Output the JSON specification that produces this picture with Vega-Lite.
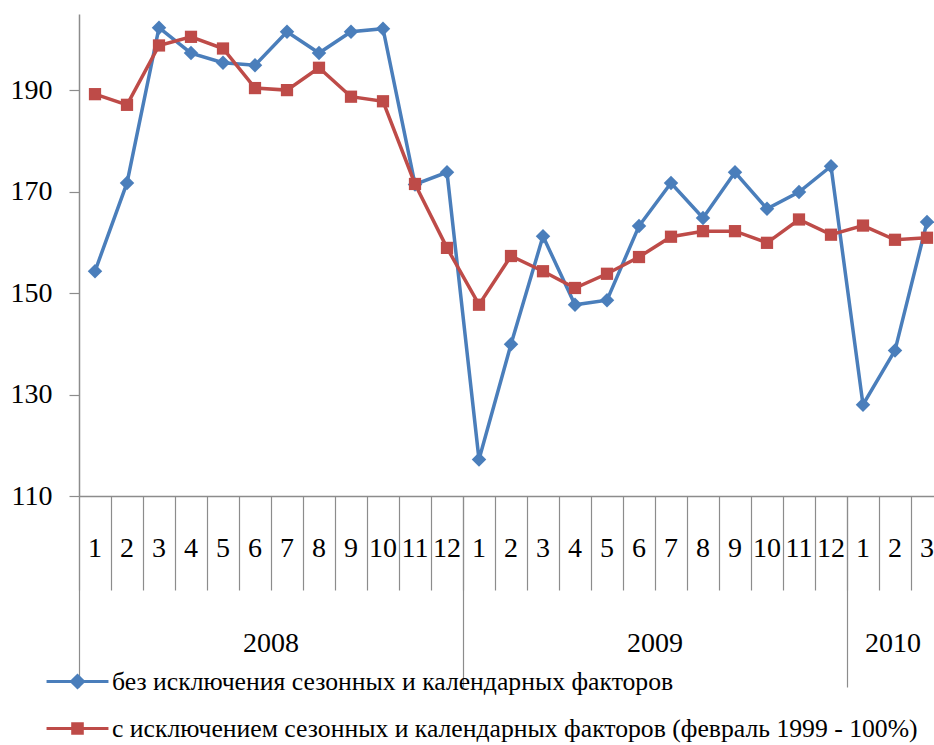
{
  "$schema": "https://vega.github.io/schema/vega-lite/v6.json",
  "width": 864,
  "height": 482,
  "autosize": {"type": "none"},
  "padding": {"left": 79, "top": 14, "right": 0, "bottom": 249},
  "background": "white",
  "config": {"view": {"stroke": null}, "font": "Liberation Serif"},
  "data": {"values": [
    {"m": "2008-01", "s": "без исключения сезонных и календарных факторов", "v": 154.3},
    {"m": "2008-02", "s": "без исключения сезонных и календарных факторов", "v": 171.7},
    {"m": "2008-03", "s": "без исключения сезонных и календарных факторов", "v": 202.3},
    {"m": "2008-04", "s": "без исключения сезонных и календарных факторов", "v": 197.3},
    {"m": "2008-05", "s": "без исключения сезонных и календарных факторов", "v": 195.4},
    {"m": "2008-06", "s": "без исключения сезонных и календарных факторов", "v": 194.9},
    {"m": "2008-07", "s": "без исключения сезонных и календарных факторов", "v": 201.5},
    {"m": "2008-08", "s": "без исключения сезонных и календарных факторов", "v": 197.3},
    {"m": "2008-09", "s": "без исключения сезонных и календарных факторов", "v": 201.5},
    {"m": "2008-10", "s": "без исключения сезонных и календарных факторов", "v": 202.1},
    {"m": "2008-11", "s": "без исключения сезонных и календарных факторов", "v": 171.4},
    {"m": "2008-12", "s": "без исключения сезонных и календарных факторов", "v": 173.8},
    {"m": "2009-01", "s": "без исключения сезонных и календарных факторов", "v": 117.2},
    {"m": "2009-02", "s": "без исключения сезонных и календарных факторов", "v": 139.9},
    {"m": "2009-03", "s": "без исключения сезонных и календарных факторов", "v": 161.2},
    {"m": "2009-04", "s": "без исключения сезонных и календарных факторов", "v": 147.7},
    {"m": "2009-05", "s": "без исключения сезонных и календарных факторов", "v": 148.6},
    {"m": "2009-06", "s": "без исключения сезонных и календарных факторов", "v": 163.2},
    {"m": "2009-07", "s": "без исключения сезонных и календарных факторов", "v": 171.7},
    {"m": "2009-08", "s": "без исключения сезонных и календарных факторов", "v": 164.8},
    {"m": "2009-09", "s": "без исключения сезонных и календарных факторов", "v": 173.8},
    {"m": "2009-10", "s": "без исключения сезонных и календарных факторов", "v": 166.6},
    {"m": "2009-11", "s": "без исключения сезонных и календарных факторов", "v": 169.9},
    {"m": "2009-12", "s": "без исключения сезонных и календарных факторов", "v": 175.0},
    {"m": "2010-01", "s": "без исключения сезонных и календарных факторов", "v": 128.0},
    {"m": "2010-02", "s": "без исключения сезонных и календарных факторов", "v": 138.7},
    {"m": "2010-03", "s": "без исключения сезонных и календарных факторов", "v": 164.0},
    {"m": "2008-01", "s": "с исключением сезонных и календарных факторов (февраль 1999 - 100%)", "v": 189.2},
    {"m": "2008-02", "s": "с исключением сезонных и календарных факторов (февраль 1999 - 100%)", "v": 187.1},
    {"m": "2008-03", "s": "с исключением сезонных и календарных факторов (февраль 1999 - 100%)", "v": 198.8},
    {"m": "2008-04", "s": "с исключением сезонных и календарных факторов (февраль 1999 - 100%)", "v": 200.5},
    {"m": "2008-05", "s": "с исключением сезонных и календарных факторов (февраль 1999 - 100%)", "v": 198.2},
    {"m": "2008-06", "s": "с исключением сезонных и календарных факторов (февраль 1999 - 100%)", "v": 190.4},
    {"m": "2008-07", "s": "с исключением сезонных и календарных факторов (февраль 1999 - 100%)", "v": 190.0},
    {"m": "2008-08", "s": "с исключением сезонных и календарных факторов (февраль 1999 - 100%)", "v": 194.4},
    {"m": "2008-09", "s": "с исключением сезонных и календарных факторов (февраль 1999 - 100%)", "v": 188.7},
    {"m": "2008-10", "s": "с исключением сезонных и календарных факторов (февраль 1999 - 100%)", "v": 187.8},
    {"m": "2008-11", "s": "с исключением сезонных и календарных факторов (февраль 1999 - 100%)", "v": 171.5},
    {"m": "2008-12", "s": "с исключением сезонных и календарных факторов (февраль 1999 - 100%)", "v": 158.9},
    {"m": "2009-01", "s": "с исключением сезонных и календарных факторов (февраль 1999 - 100%)", "v": 147.7},
    {"m": "2009-02", "s": "с исключением сезонных и календарных факторов (февраль 1999 - 100%)", "v": 157.3},
    {"m": "2009-03", "s": "с исключением сезонных и календарных факторов (февраль 1999 - 100%)", "v": 154.3},
    {"m": "2009-04", "s": "с исключением сезонных и календарных факторов (февраль 1999 - 100%)", "v": 151.0},
    {"m": "2009-05", "s": "с исключением сезонных и календарных факторов (февраль 1999 - 100%)", "v": 153.8},
    {"m": "2009-06", "s": "с исключением сезонных и календарных факторов (февраль 1999 - 100%)", "v": 157.1},
    {"m": "2009-07", "s": "с исключением сезонных и календарных факторов (февраль 1999 - 100%)", "v": 161.1},
    {"m": "2009-08", "s": "с исключением сезонных и календарных факторов (февраль 1999 - 100%)", "v": 162.2},
    {"m": "2009-09", "s": "с исключением сезонных и календарных факторов (февраль 1999 - 100%)", "v": 162.2},
    {"m": "2009-10", "s": "с исключением сезонных и календарных факторов (февраль 1999 - 100%)", "v": 159.9},
    {"m": "2009-11", "s": "с исключением сезонных и календарных факторов (февраль 1999 - 100%)", "v": 164.5},
    {"m": "2009-12", "s": "с исключением сезонных и календарных факторов (февраль 1999 - 100%)", "v": 161.5},
    {"m": "2010-01", "s": "с исключением сезонных и календарных факторов (февраль 1999 - 100%)", "v": 163.3},
    {"m": "2010-02", "s": "с исключением сезонных и календарных факторов (февраль 1999 - 100%)", "v": 160.5},
    {"m": "2010-03", "s": "с исключением сезонных и календарных факторов (февраль 1999 - 100%)", "v": 160.9}
  ]},
  "layer": [
    {
      "mark": {"type": "line", "strokeWidth": 3.5},
      "encoding": {
        "x": {
          "field": "m", "type": "ordinal",
          "scale": {"type": "band", "paddingInner": 0, "paddingOuter": 0},
          "axis": {
            "orient": "bottom", "title": null, "bandPosition": 0, "tickSize": 94, "tickWidth": 1.2, "tickColor": "#8c8c8c",
            "domainColor": "#8c8c8c", "domainWidth": 1.5,
            "labelPadding": -42, "labelFontSize": 28, "labelAngle": 0, "labelBaseline": "middle",
            "labelColor": "#000", "labelOverlap": false, "labelFlush": false, "labelBound": false,
            "labelExpr": "toNumber(substring(datum.value,5,7))"
          }
        },
        "y": {
          "field": "v", "type": "quantitative",
          "scale": {"domain": [110, 205], "nice": false, "zero": false},
          "axis": {
            "title": null, "values": [110, 130, 150, 170, 190], "grid": false,
            "tickSize": 10, "tickWidth": 1.2, "tickColor": "#8c8c8c", "domainColor": "#8c8c8c", "domainWidth": 1.5,
            "labelFontSize": 28, "labelPadding": 17, "labelColor": "#000"
          }
        },
        "color": {
          "field": "s", "type": "nominal",
          "scale": {
            "domain": ["без исключения сезонных и календарных факторов", "с исключением сезонных и календарных факторов (февраль 1999 - 100%)"],
            "range": ["#4A7EBB", "#BE4B48"]
          },
          "legend": {
            "orient": "none", "legendX": -15, "legendY": 654, "direction": "vertical", "title": null,
            "padding": 0, "labelFontSize": 25.7, "labelFont": "Liberation Serif", "labelColor": "#000",
            "symbolSize": 576, "labelOffset": 21, "rowPadding": 20, "labelLimit": 0,
            "encode": {
              "symbols": {
                "update": {
                  "shape": {"signal": "indexof(datum.value, 'без') === 0 ? 'M-2.58,0H2.58M0,-0.5L0.5,0L0,0.5L-0.5,0Z' : 'M-2.58,0H2.58M-0.4,-0.4H0.4V0.4H-0.4Z'"},
                  "fill": {"scale": "color", "field": "value"},
                  "stroke": {"scale": "color", "field": "value"},
                  "strokeWidth": {"value": 3},
                  "opacity": {"value": 1},
                  "fillOpacity": {"value": 1}
                }
              }
            }
          }
        }
      }
    },
    {
      "transform": [{"filter": "indexof(datum.s, 'без') === 0"}],
      "mark": {"type": "point", "filled": true, "opacity": 1, "shape": "diamond", "size": 210},
      "encoding": {
        "x": {
          "field": "m", "type": "ordinal",
          "axis": {
            "orient": "bottom", "title": null, "values": ["2008-01", "2009-01", "2010-01"], "bandPosition": 0,
            "tickSize": 191, "tickWidth": 1.2, "tickColor": "#8c8c8c", "domain": false,
            "labelPadding": -44, "labelFontSize": 28, "labelAngle": 0, "labelBaseline": "middle",
            "labelColor": "#000", "labelOverlap": false, "labelFlush": false, "labelBound": false,
            "labelOffset": {"condition": {"test": "datum.value == '2010-01'", "value": 30}, "value": 176},
            "labelExpr": "substring(datum.value,0,4)"
          }
        },
        "y": {"field": "v", "type": "quantitative"},
        "color": {"field": "s", "type": "nominal"}
      }
    },
    {
      "transform": [{"filter": "indexof(datum.s, 'без') !== 0"}],
      "mark": {"type": "point", "filled": true, "opacity": 1, "shape": "square", "size": 150},
      "encoding": {
        "x": {"field": "m", "type": "ordinal", "axis": null},
        "y": {"field": "v", "type": "quantitative"},
        "color": {"field": "s", "type": "nominal"}
      }
    }
  ],
  "resolve": {"axis": {"x": "independent"}}
}
